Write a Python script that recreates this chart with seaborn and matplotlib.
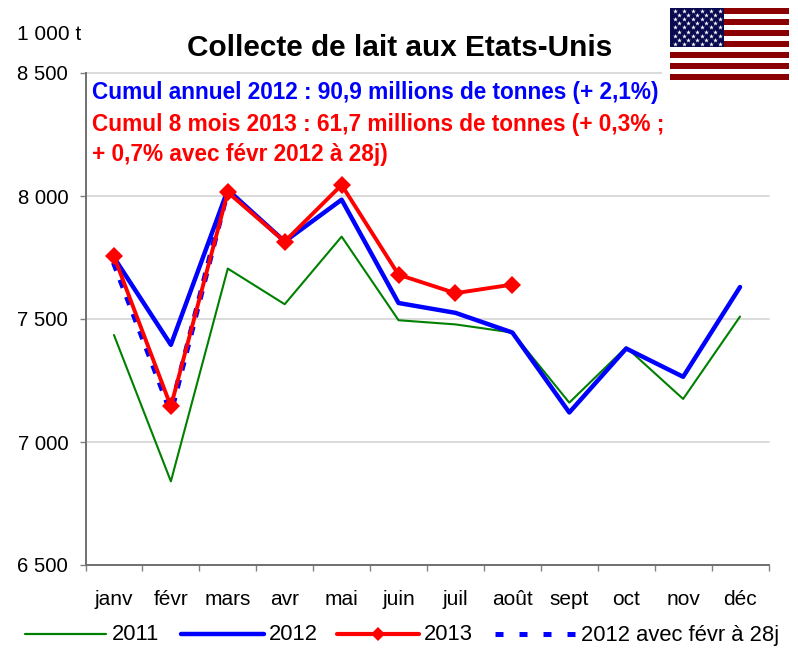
import numpy as np
import matplotlib
matplotlib.use("Agg")
import matplotlib.pyplot as plt
from matplotlib.patches import Rectangle
from matplotlib.lines import Line2D
import seaborn as sns

months = ["janv", "févr", "mars", "avr", "mai", "juin", "juil", "août", "sept", "oct", "nov", "déc"]
y2011 = [7435, 6840, 7705, 7560, 7835, 7495, 7478, 7445, 7160, 7385, 7175, 7510]
y2012 = [7750, 7395, 8025, 7815, 7985, 7565, 7525, 7445, 7120, 7380, 7265, 7630]
y2013 = [7755, 7145, 8015, 7815, 8045, 7680, 7605, 7640]
y2012_28 = [7730, 7125, 8030]
yticks = [6500, 7000, 7500, 8000, 8500]
ylabels = ["6 500", "7 000", "7 500", "8 000", "8 500"]

sns.set_theme(style="white")
plt.rcParams['font.family'] = ['Liberation Sans', 'DejaVu Sans']

W, H = 798, 652
fig = plt.figure(figsize=(W / 100, H / 100), dpi=100, facecolor="white")
ax = fig.add_axes([85.5 / W, 1 - 565 / H, (768.5 - 85.5) / W, (565 - 73) / H])

x = np.arange(12)
sns.lineplot(x=x, y=y2011, ax=ax, color="#008000", lw=1.5, zorder=3)
sns.lineplot(x=x, y=y2012, ax=ax, color="#0000FF", lw=3.2, zorder=4)
sns.lineplot(x=x[:3], y=y2012_28, ax=ax, color="#0000FF", lw=4.4, zorder=5,
             linestyle=(0, (1.4, 1.6)))
sns.lineplot(x=x[:8], y=y2013, ax=ax, color="#FF0000", lw=2.8, zorder=6,
             marker="D", markersize=9.5, markeredgewidth=0, markerfacecolor="#FF0000")

ax.set_xlim(-0.5, 11.5)
ax.set_ylim(6500, 8500)
ax.set_yticks(yticks)
ax.set_yticklabels(ylabels, fontsize=14.6, color="black")
ax.set_xticks(x)
ax.set_xticklabels(months, fontsize=15, color="black")
ax.set_xticks(np.arange(-0.5, 12, 1), minor=True)
ax.tick_params(axis="x", which="major", length=0, pad=18, bottom=True)
ax.tick_params(axis="x", which="minor", length=4.5, width=1, color="#808080", bottom=True)
ax.tick_params(axis="y", length=4.5, width=1, color="#808080", left=True, pad=8)
ax.set_xlabel("")
ax.set_ylabel("")
ax.grid(axis="y", color="#D4D4D4", lw=1.2)
for gl in ax.get_ygridlines():
    gl.set_clip_on(False)
ax.set_axisbelow(True)
for s in ("top", "right"):
    ax.spines[s].set_visible(False)
for s in ("left", "bottom"):
    ax.spines[s].set_color("#707070")
    ax.spines[s].set_linewidth(1.4)


def fx(px):
    return px / W


def fy(py):
    return 1 - py / H


fig.text(fx(400), fy(48), "Collecte de lait aux Etats-Unis", fontsize=21.4, fontweight="bold",
         ha="center", va="center", color="black")
fig.text(fx(17), fy(34), "1 000 t", fontsize=15, ha="left", va="center", color="black")
fig.text(fx(92), fy(93), "Cumul annuel 2012 : 90,9 millions de tonnes (+ 2,1%)", fontsize=16.25,
         fontweight="bold", color="#0000FF", ha="left", va="center")
fig.text(fx(92), fy(125), "Cumul 8 mois 2013 : 61,7 millions de tonnes (+ 0,3% ;", fontsize=16.25,
         fontweight="bold", color="#FF0000", ha="left", va="center")
fig.text(fx(92), fy(155), "+ 0,7% avec févr 2012 à 28j)", fontsize=16.25,
         fontweight="bold", color="#FF0000", ha="left", va="center")

leg = [
    (25, 106, 112, "2011", dict(color="#008000", lw=1.6)),
    (181, 264, 269, "2012", dict(color="#0000FF", lw=3.2)),
    (337, 419, 424, "2013", dict(color="#FF0000", lw=3.0)),
    (495, 576, 581, "2012 avec févr à 28j", dict(color="#0000FF", lw=3.6, linestyle=(0, (1.6, 3.2)))),
]
ly = 634
for x0, x1, tx, lab, st in leg:
    fig.add_artist(Line2D([fx(x0), fx(x1)], [fy(ly), fy(ly)], transform=fig.transFigure, **st))
    fig.text(fx(tx), fy(ly + 1), lab, fontsize=15.8, ha="left", va="center", color="black")
fig.add_artist(Line2D([fx(378)], [fy(ly)], transform=fig.transFigure, marker="D",
                      markersize=7, color="#FF0000", markeredgewidth=0, linestyle="none"))

# white background of the flag picture, which hides the end of the top gridline
fig.add_artist(Rectangle((fx(662), fy(82)), fx(136), fy(0) - fy(82), transform=fig.transFigure,
                         color="white", lw=0, zorder=5))
fa = fig.add_axes([670 / W, 1 - 80 / H, 119 / W, 72 / H], zorder=10)
fa.set_xlim(0, 119)
fa.set_ylim(72, 0)
fa.axis("off")
for i in range(7):
    fa.add_patch(Rectangle((0, i * 11), 119, 5.5, color="#8B0000", lw=0))
fa.add_patch(Rectangle((0, 0), 54, 38.5, color="#0A0A50", lw=0))
sx, sy = [], []
for r in range(9):
    n = 6 if r % 2 == 0 else 5
    off = 4.5 if r % 2 == 0 else 9
    for c in range(n):
        sx.append(off + c * 9)
        sy.append(3.0 + r * 4.1)
fa.scatter(sx, sy, s=13, marker="*", color="white", linewidths=0)

fig.savefig("out.png", dpi=100, facecolor="white")
